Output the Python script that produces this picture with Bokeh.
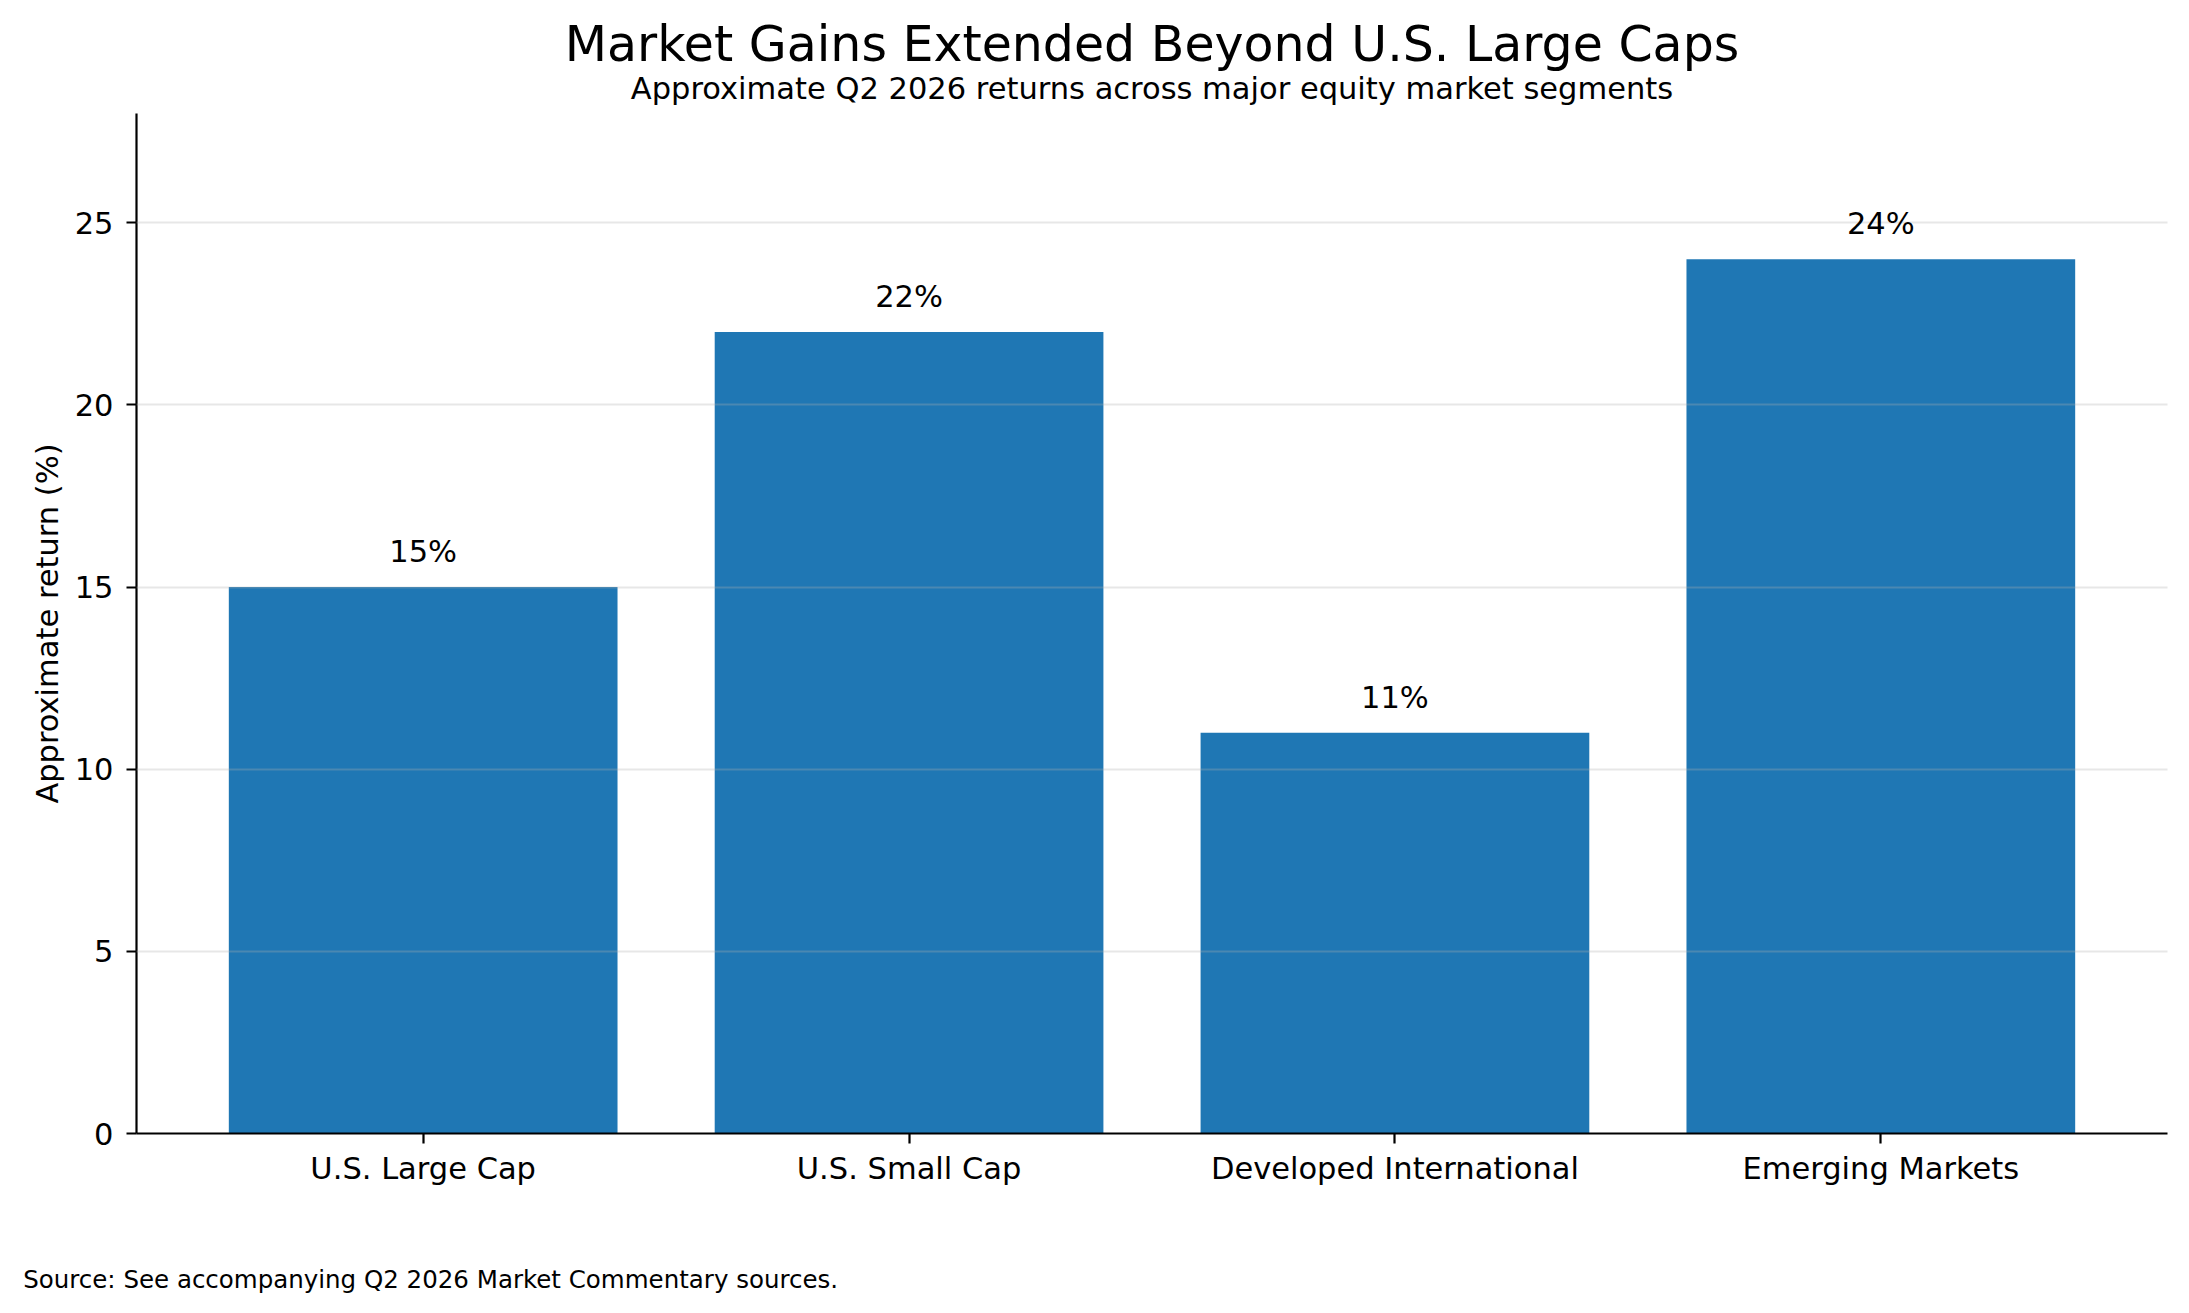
from bokeh.plotting import figure
from bokeh.models import Range1d, FixedTicker, Title, Label
from bokeh.layouts import column
from bokeh.embed import file_html
from bokeh.resources import INLINE
from bokeh.core.properties import value

# ---- data ----
categories = ["U.S. Large Cap", "U.S. Small Cap", "Developed International", "Emerging Markets"]
returns_pct = [15, 22, 11, 24]
y_ticks = [0, 5, 10, 15, 20, 25]
title_text = "Market Gains Extended Beyond U.S. Large Caps"
subtitle_text = "Approximate Q2 2026 returns across major equity market segments"
source_text = "Source: See accompanying Q2 2026 Market Commentary sources."
y_label = "Approximate return (%)"

FONT = "DejaVu Sans"
BAR_COLOR = "#1f77b4"
LABEL_PAD = 0.97
WIDTH = 2180

positions = list(range(len(categories)))
value_labels = [f"{v}%" for v in returns_pct]
label_y = [v + LABEL_PAD for v in returns_pct]

p = figure(
    width=WIDTH, height=1250,
    x_range=Range1d(-0.59, 3.59), y_range=Range1d(0, 28),
    output_backend="svg", toolbar_location=None,
    min_border_left=136, min_border_right=13,
    min_border_top=113, min_border_bottom=117,
)
p.frame_align = False
p.outline_line_color = None
p.background_fill_color = "white"
p.border_fill_color = "white"

p.vbar(x=positions, top=returns_pct, width=0.8, color=BAR_COLOR, line_color=None)

p.text(x=positions, y=label_y, text=value_labels,
       text_font=value(FONT), text_font_size="30.5px", text_color="black",
       text_align="center", text_baseline="alphabetic", level="annotation")

# grid
p.xgrid.visible = False
p.ygrid.ticker = FixedTicker(ticks=y_ticks)
p.ygrid.grid_line_color = "#b0b0b0"
p.ygrid.grid_line_alpha = 0.3
p.ygrid.grid_line_width = 2.2
p.ygrid.level = "guide"

# axes
for ax in (p.xaxis[0], p.yaxis[0]):
    ax.axis_line_color = "black"
    ax.axis_line_width = 2.2
    ax.major_tick_line_color = "black"
    ax.major_tick_line_width = 2.2
    ax.major_tick_out = 10
    ax.major_tick_in = 0
    ax.minor_tick_line_color = None
    ax.major_label_text_font = FONT
    ax.major_label_text_font_size = "30.5px"
    ax.major_label_text_color = "black"
    ax.axis_label_text_font = FONT
    ax.axis_label_text_font_size = "30.5px"
    ax.axis_label_text_font_style = "normal"
    ax.axis_label_text_color = "black"

p.xaxis.ticker = FixedTicker(ticks=positions)
p.xaxis.major_label_overrides = {i: c for i, c in zip(positions, categories)}
p.xaxis.major_label_standoff = 7

p.yaxis.ticker = FixedTicker(ticks=y_ticks)
p.yaxis.major_label_standoff = 13
p.yaxis.axis_label = y_label
p.yaxis.axis_label_standoff = 7

# titles (first added title sits closest to the frame)
p.add_layout(Title(text=subtitle_text, align="center", text_font=FONT,
                   text_font_size="30.5px", text_color="black",
                   text_font_style="normal", standoff=16), "above")
p.add_layout(Title(text=title_text, align="center", text_font=FONT,
                   text_font_size="49px", text_color="black",
                   text_font_style="normal", standoff=-25), "above")

# footer strip holding the source note
FOOT_H = 60
foot = figure(width=WIDTH, height=FOOT_H, x_range=Range1d(0, WIDTH), y_range=Range1d(0, FOOT_H),
              x_axis_type=None, y_axis_type=None, output_backend="svg",
              toolbar_location=None, min_border=0)
foot.frame_align = False
foot.outline_line_color = None
foot.grid.visible = False
foot.add_layout(Label(x=22.7, y=31, text=source_text, text_font=FONT,
                      text_font_size="24.5px", text_color="black",
                      text_align="left", text_baseline="alphabetic"))

layout = column(p, foot, spacing=0)
open("out.html", "w").write(file_html(layout, INLINE))
